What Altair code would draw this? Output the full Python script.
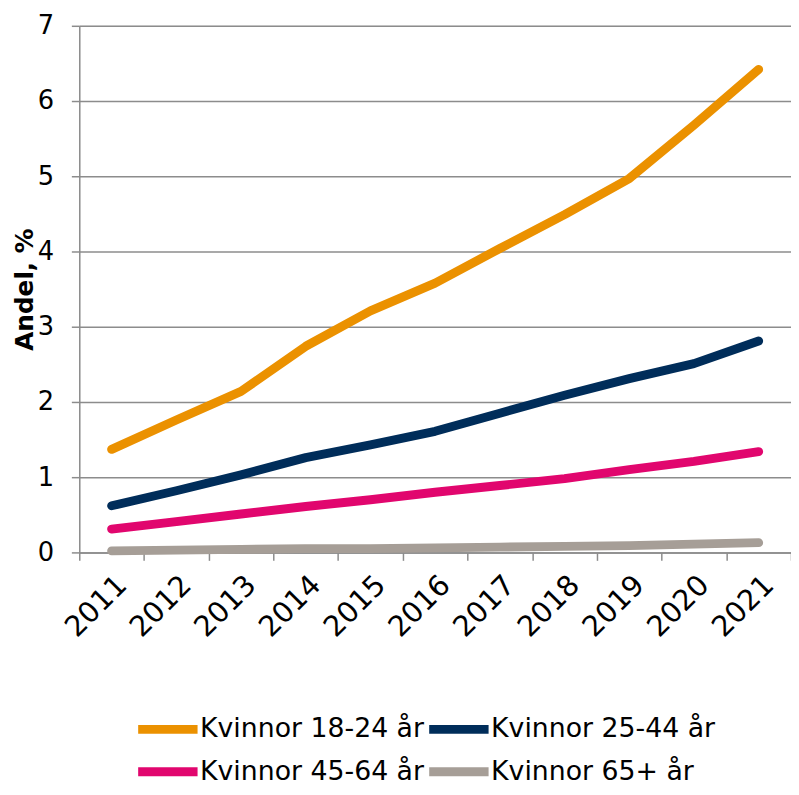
import altair as alt
import pandas as pd

years = [str(y) for y in range(2011, 2022)]
series_names = ["Kvinnor 18-24 år", "Kvinnor 25-44 år", "Kvinnor 45-64 år", "Kvinnor 65+ år"]
v_18_24 = [1.37, 1.76, 2.14, 2.74, 3.21, 3.58, 4.04, 4.49, 4.97, 5.68, 6.42]
v_25_44 = [0.62, 0.82, 1.03, 1.26, 1.43, 1.61, 1.85, 2.09, 2.31, 2.51, 2.81]
v_45_64 = [0.31, 0.41, 0.51, 0.61, 0.70, 0.80, 0.89, 0.98, 1.10, 1.21, 1.34]
v_65 = [0.02, 0.03, 0.04, 0.05, 0.05, 0.06, 0.07, 0.08, 0.09, 0.11, 0.13]
colors = ["#EB9100", "#002D5A", "#E1066E", "#A69E97"]
# legend fills column by column: put entries so rows read 18-24 / 25-44, then 45-64 / 65+
legend_order = [series_names[0], series_names[2], series_names[1], series_names[3]]
legend_colors = [colors[0], colors[2], colors[1], colors[3]]

rows = []
for name, vals in zip(series_names, [v_18_24, v_25_44, v_45_64, v_65]):
    for y, v in zip(years, vals):
        rows.append({"year": y, "serie": name, "value": v})
df = pd.DataFrame(rows)

FONT = "DejaVu Sans"
GRID = "#8C8C8C"

chart = alt.Chart(df).mark_line(strokeWidth=9, strokeCap="round", strokeJoin="round").encode(
    x=alt.X("year:O", bandPosition=0.5,
            scale=alt.Scale(type="band", paddingInner=0, paddingOuter=0),
            axis=alt.Axis(title=None, labelAngle=-45, labelAlign="right", labelBaseline="middle",
                          tickBand="extent", labelFontSize=29, labelFont=FONT, labelColor="#000",
                          labelPadding=20, labelOffset=10, tickSize=8, tickColor=GRID, tickWidth=1.5,
                          domainColor=GRID, domainWidth=1.5, grid=False)),
    y=alt.Y("value:Q", scale=alt.Scale(domain=[0, 7], nice=False),
            axis=alt.Axis(title="Andel, %", values=[0, 1, 2, 3, 4, 5, 6, 7],
                          labelFontSize=26, labelFont=FONT, labelColor="#000", labelPadding=18,
                          tickSize=8, tickColor=GRID, tickWidth=1.5,
                          domainColor=GRID, domainWidth=1.5,
                          grid=True, gridColor=GRID, gridWidth=1.5,
                          titleFont=FONT, titleFontSize=25, titleFontWeight="bold", titleColor="#000",
                          titleX=-42, titleY=266, titleAngle=-90, titleBaseline="bottom", titleAlign="center")),
    color=alt.Color("serie:N", sort=legend_order,
                    scale=alt.Scale(domain=legend_order, range=legend_colors),
                    legend=alt.Legend(title=None, orient="none", legendX=55, legendY=696,
                                      columns=2, columnPadding=-20, rowPadding=6,
                                      symbolType="M-1,0H5", symbolSize=400, symbolStrokeWidth=9,
                                      labelFont=FONT, labelFontSize=27, labelColor="#000",
                                      labelOffset=38, labelLimit=400)),
).properties(
    width=719, height=532,
    autosize=alt.AutoSizeParams(type="none"),
    padding={"left": 72, "top": 14, "right": 0, "bottom": 233},
).configure_view(stroke=None).configure(background="white")

chart.save("out.html", embed_options={"renderer": "svg", "actions": False})
